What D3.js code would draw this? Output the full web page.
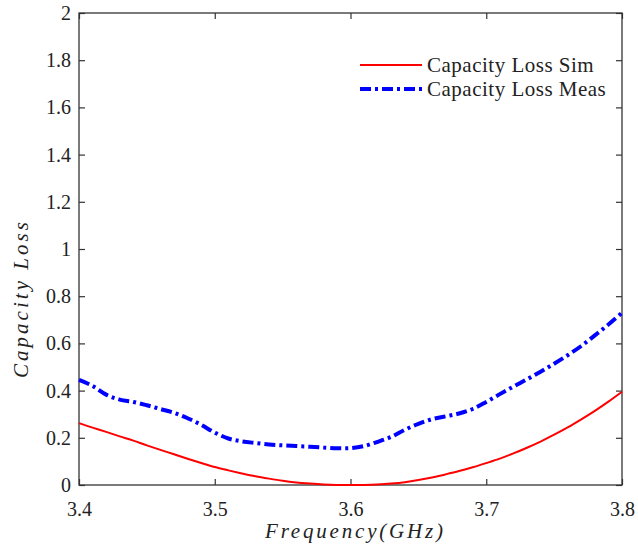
<!DOCTYPE html>
<html>
<head>
<meta charset="utf-8">
<script src="https://cdn.jsdelivr.net/npm/d3@7"></script>
<style>
  html, body { margin: 0; padding: 0; background: #ffffff; }
  svg { display: block; }
  text { font-family: "Liberation Serif", "Times New Roman", serif; fill: #222; }
</style>
</head>
<body>
<div id="chart"></div>
<script>
// Frequency samples (GHz)
const freqGHz = [
  3.40, 3.41, 3.42, 3.43, 3.44, 3.45, 3.46, 3.47, 3.48, 3.49,
  3.50, 3.51, 3.52, 3.53, 3.54, 3.55, 3.56, 3.57, 3.58, 3.59,
  3.60, 3.61, 3.62, 3.63, 3.64, 3.65, 3.66, 3.67, 3.68, 3.69,
  3.70, 3.71, 3.72, 3.73, 3.74, 3.75, 3.76, 3.77, 3.78, 3.79, 3.80
];

// Simulated capacity loss
const capLossSim = [
  0.262, 0.243, 0.225, 0.206, 0.188, 0.168, 0.149, 0.130, 0.111, 0.093,
  0.076, 0.062, 0.049, 0.037, 0.027, 0.018, 0.011, 0.006, 0.002, 0.000,
  0.000, 0.000, 0.002, 0.006, 0.012, 0.021, 0.032, 0.045, 0.059, 0.075,
  0.093, 0.112, 0.134, 0.158, 0.184, 0.213, 0.244, 0.278, 0.314, 0.353, 0.395
];

// Measured capacity loss
const capLossMeas = [
  0.445, 0.420, 0.383, 0.362, 0.352, 0.338, 0.322, 0.306, 0.283, 0.255,
  0.222, 0.197, 0.185, 0.178, 0.172, 0.168, 0.165, 0.162, 0.159, 0.156,
  0.156, 0.165, 0.183, 0.204, 0.234, 0.259, 0.279, 0.291, 0.303, 0.322,
  0.352, 0.385, 0.417, 0.448, 0.480, 0.514, 0.550, 0.589, 0.634, 0.680, 0.730
];

const xTicks = [3.4, 3.5, 3.6, 3.7, 3.8];
const yTicks = [0, 0.2, 0.4, 0.6, 0.8, 1, 1.2, 1.4, 1.6, 1.8, 2];
const seriesNames = ["Capacity Loss Sim", "Capacity Loss Meas"];

const W = 638, H = 550;
const plot = { left: 79, right: 622, top: 13, bottom: 485 };

const svg = d3.select("#chart").append("svg")
  .attr("width", W).attr("height", H);

const x = d3.scaleLinear().domain([3.4, 3.8]).range([plot.left, plot.right]);
const y = d3.scaleLinear().domain([0, 2]).range([plot.bottom, plot.top]);

const axisColor = "#333";
const fmt = d => String(+d.toFixed(1));

function styleAxis(g) {
  g.select(".domain").remove();
  g.selectAll(".tick line").attr("stroke", axisColor).attr("stroke-width", 1.2);
  g.selectAll(".tick text").attr("font-size", 20)
    .attr("font-family", "'Liberation Serif', serif").attr("fill", "#222");
}

// Bottom axis with labels, ticks pointing inward
svg.append("g").attr("transform", `translate(0,${plot.bottom})`)
  .call(d3.axisBottom(x).tickValues(xTicks).tickFormat(fmt)
    .tickSizeInner(-6).tickSizeOuter(0).tickPadding(17))
  .call(styleAxis);

// Top axis, ticks only
svg.append("g").attr("transform", `translate(0,${plot.top})`)
  .call(d3.axisTop(x).tickValues(xTicks).tickFormat("")
    .tickSizeInner(-6).tickSizeOuter(0))
  .call(styleAxis);

// Left axis with labels
svg.append("g").attr("transform", `translate(${plot.left},0)`)
  .call(d3.axisLeft(y).tickValues(yTicks).tickFormat(fmt)
    .tickSizeInner(-6).tickSizeOuter(0).tickPadding(8))
  .call(styleAxis);

// Right axis, ticks only
svg.append("g").attr("transform", `translate(${plot.right},0)`)
  .call(d3.axisRight(y).tickValues(yTicks).tickFormat("")
    .tickSizeInner(-6).tickSizeOuter(0))
  .call(styleAxis);

// Plot box
svg.append("rect")
  .attr("x", plot.left).attr("y", plot.top)
  .attr("width", plot.right - plot.left).attr("height", plot.bottom - plot.top)
  .attr("fill", "none").attr("stroke", axisColor).attr("stroke-width", 1.3);

const line = d3.line()
  .x((d, i) => x(freqGHz[i]))
  .y(d => y(d))
  .curve(d3.curveCatmullRom.alpha(0.5));

svg.append("path").datum(capLossMeas)
  .attr("d", line).attr("fill", "none")
  .attr("stroke", "#0000ff").attr("stroke-width", 4)
  .attr("stroke-dasharray", "11,4,3,4");

svg.append("path").datum(capLossSim)
  .attr("d", line).attr("fill", "none")
  .attr("stroke", "#ff0000").attr("stroke-width", 2);

// Legend
const legend = svg.append("g");
const legendRows = [
  { name: seriesNames[0], color: "#ff0000", width: 2, dash: null, y: 65 },
  { name: seriesNames[1], color: "#0000ff", width: 4, dash: "11,4,3,4", y: 89 }
];
legendRows.forEach(r => {
  legend.append("line")
    .attr("x1", 360).attr("x2", 422).attr("y1", r.y).attr("y2", r.y)
    .attr("stroke", r.color).attr("stroke-width", r.width)
    .attr("stroke-dasharray", r.dash);
  legend.append("text")
    .attr("x", 427).attr("y", r.y + 7)
    .attr("font-size", 21)
    .attr("letter-spacing", 0.5)
    .text(r.name);
});

// Axis titles
svg.append("text")
  .attr("x", 354).attr("y", 538)
  .attr("text-anchor", "middle")
  .attr("font-size", 21).attr("font-style", "italic")
  .attr("textLength", 178).attr("lengthAdjust", "spacing")
  .text("Frequency(GHz)");

svg.append("text")
  .attr("transform", "translate(28,300) rotate(-90)")
  .attr("text-anchor", "middle")
  .attr("font-size", 21).attr("font-style", "italic")
  .attr("textLength", 156).attr("lengthAdjust", "spacing")
  .text("Capacity Loss");
</script>
</body>
</html>
